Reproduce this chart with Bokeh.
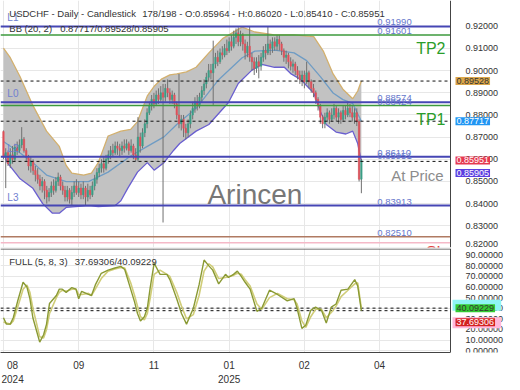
from bokeh.plotting import figure
from bokeh.layouts import column
from bokeh.models import (Range1d, FixedTicker, NumeralTickFormatter, Label,
                          ColumnDataSource, LinearAxis)
from bokeh.core.properties import value
from bokeh.embed import file_html
from bokeh.resources import INLINE

FONT = "Liberation Sans"

# ---------------- candles (daily USDCHF) ----------------
bar_open = [.8725, .8610, .8630, .8580, .8620, .8600, .8655, .8640, .8665, .8690,
            .8640, .8610, .8570, .8590, .8550, .8530, .8510, .8480, .8500, .8460,
            .8430, .8450, .8480, .8460, .8500, .8520, .8480, .8460, .8430, .8460,
            .8420, .8450, .8480, .8450, .8470, .8440, .8470, .8430, .8460, .8440,
            .8480, .8510, .8540, .8560, .8580, .8560, .8600, .8620, .8640, .8630,
            .8660, .8650, .8640, .8660, .8650, .8670, .8640, .8660, .8620, .8600,
            .8700, .8660, .8720, .8760, .8810, .8840, .8870, .8850, .8890, .8870,
            .8900, .8880, .8920, .8900, .8870, .8890, .8850, .8800, .8760, .8780,
            .8740, .8720, .8760, .8800, .8830, .8860, .8840, .8880, .8910, .8940,
            .8970, .9000, .8990, .9030, .9060, .9040, .9080, .9070, .9100, .9090,
            .9130, .9110, .9150, .9170, .9130, .9160, .9120, .9080, .9110, .9060,
            .9040, .9010, .9040, .9020, .9060, .9090, .9080, .9120, .9100, .9130,
            .9110, .9140, .9120, .9090, .9060, .9070, .9040, .9020, .9030, .9000,
            .8980, .8960, .8980, .8950, .8990, .8950, .8920, .8900, .8870, .8840,
            .8790, .8760, .8790, .8810, .8780, .8800, .8830, .8790, .8810, .8780,
            .8820, .8800, .8830, .8810, .8790, .8810, .8770, .8510]
bar_high = [.8730, .8650, .8640, .8650, .8660, .8670, .8680, .8690, .8745, .8700,
            .8650, .8620, .8610, .8600, .8570, .8560, .8530, .8520, .8510, .8480,
            .8470, .8500, .8510, .8520, .8540, .8530, .8500, .8480, .8480, .8470,
            .8480, .8500, .8510, .8500, .8490, .8500, .8480, .8490, .8480, .8500,
            .8530, .8560, .8580, .8600, .8610, .8620, .8640, .8660, .8670, .8680,
            .8680, .8670, .8680, .8690, .8690, .8680, .8690, .8670, .8650, .8790,
            .8720, .8740, .8780, .8830, .8860, .8890, .8900, .8910, .8920, .8930,
            .8940, .8940, .8960, .8920, .8910, .8900, .8860, .8985, .8800, .8800,
            .8760, .8780, .8820, .8860, .8880, .8890, .8900, .8930, .8960, .8990,
            .9030, .9030, .9135, .9080, .9090, .9100, .9110, .9120, .9140, .9150,
            .9160, .9180, .9190, .9195, .9180, .9170, .9140, .9130, .9199, .9080,
            .9060, .9060, .9070, .9080, .9110, .9120, .9199, .9140, .9150, .9150,
            .9160, .9160, .9130, .9100, .9090, .9080, .9060, .9050, .9040, .9020,
            .9000, .9000, .9000, .9040, .9000, .8960, .8940, .8910, .8880, .8850,
            .8800, .8810, .8830, .8820, .8830, .8850, .8840, .8830, .8820, .8840,
            .8840, .8860, .8850, .8840, .8830, .8830, .8780, .8602]
bar_low = [.8600, .8470, .8570, .8560, .8580, .8590, .8620, .8630, .8650, .8630,
           .8590, .8550, .8540, .8530, .8500, .8490, .8460, .8450, .8420, .8400,
           .8410, .8430, .8440, .8450, .8480, .8460, .8440, .8410, .8410, .8400,
           .8390, .8430, .8440, .8430, .8420, .8420, .8390, .8410, .8420, .8430,
           .8460, .8490, .8520, .8540, .8540, .8550, .8580, .8600, .8610, .8620,
           .8620, .8610, .8620, .8630, .8640, .8620, .8630, .8600, .8590, .8590,
           .8630, .8650, .8700, .8740, .8800, .8820, .8830, .8840, .8850, .8860,
           .8315, .8860, .8880, .8850, .8850, .8830, .8780, .8740, .8730, .8700,
           .8690, .8700, .8740, .8780, .8810, .8820, .8830, .8860, .8890, .8920,
           .8950, .8960, .8845, .9010, .9020, .9030, .9050, .9060, .9070, .9080,
           .9090, .9100, .9120, .9110, .9110, .9090, .9050, .9060, .9040, .9000,
           .8980, .8990, .8965, .9000, .9040, .9050, .9070, .9070, .9080, .9090,
           .9090, .9090, .9070, .9040, .9030, .9010, .9000, .8990, .8980, .8960,
           .8940, .8930, .8920, .8940, .8920, .8900, .8880, .8850, .8820, .8760,
           .8740, .8740, .8770, .8760, .8770, .8780, .8770, .8760, .8760, .8770,
           .8780, .8790, .8790, .8770, .8760, .8750, .8500, .8447]
bar_close = [.8610, .8630, .8580, .8620, .8600, .8655, .8640, .8665, .8690, .8640,
             .8610, .8570, .8590, .8550, .8530, .8510, .8480, .8500, .8460, .8430,
             .8450, .8480, .8460, .8500, .8520, .8480, .8460, .8430, .8460, .8420,
             .8450, .8480, .8450, .8470, .8440, .8470, .8430, .8460, .8440, .8480,
             .8510, .8540, .8560, .8580, .8560, .8600, .8620, .8640, .8630, .8660,
             .8650, .8640, .8660, .8650, .8670, .8640, .8660, .8620, .8600, .8700,
             .8660, .8720, .8760, .8810, .8840, .8870, .8850, .8890, .8870, .8900,
             .8880, .8920, .8900, .8870, .8890, .8850, .8800, .8760, .8780, .8740,
             .8720, .8760, .8800, .8830, .8860, .8840, .8880, .8910, .8940, .8970,
             .9000, .8990, .9030, .9060, .9040, .9080, .9070, .9100, .9090, .9130,
             .9110, .9150, .9170, .9130, .9160, .9120, .9080, .9110, .9060, .9040,
             .9010, .9040, .9020, .9060, .9090, .9080, .9120, .9100, .9130, .9110,
             .9140, .9120, .9090, .9060, .9070, .9040, .9020, .9030, .9000, .8980,
             .8960, .8980, .8950, .8990, .8950, .8920, .8900, .8870, .8840, .8790,
             .8760, .8790, .8810, .8780, .8800, .8830, .8790, .8810, .8780, .8820,
             .8800, .8830, .8810, .8790, .8810, .8770, .8510, .8595]
bar_idx = list(range(len(bar_close)))

# ---------------- Bollinger bands (20, 2), sampled from the chart ----------------
bb_upper_x = [0, 3.0, 7.3, 12.9, 18.9, 24.5, 27.5, 30.0, 35.2, 38.6, 41.6, 45.9, 51.5, 55.8,
              58.8, 63.1, 66.1, 69.5, 73.0, 76.0, 80.3, 84.5, 90.1, 96.1, 101.7, 104.7, 110.3,
              118.9, 127.5, 136.1, 140.3, 144.6, 148.9, 153.2, 155.4, 157.0]
bb_upper = [.9101, .9058, .8972, .8843, .8727, .8658, .8572, .8538, .8529, .8538, .8585, .8705,
            .8727, .8735, .8770, .8886, .8929, .8963, .8981, .8985, .8994, .9015, .9080, .9144,
            .9178, .9196, .9174, .9161, .9161, .9153, .9088, .8985, .8916, .8873, .8908, .89528]
bb_mid_x = [0, 7.3, 12.9, 18.9, 27.5, 37.3, 45.9, 55.8, 63.1, 70.4, 76.0, 84.5, 94.4, 104.7,
            110.3, 118.9, 127.5, 133.0, 139.1, 144.6, 148.9, 153.2, 157.0]
bb_mid = [.8680, .8628, .8585, .8529, .8499, .8499, .8542, .8615, .8658, .8701, .8757, .8830,
          .8959, .9058, .9088, .9092, .9080, .9045, .8972, .8899, .8869, .8852, .87717]
bb_lower_x = [0, 1.7, 7.3, 12.9, 17.2, 21.5, 24.5, 27.5, 37.3, 41.6, 48.9, 51.5, 54.5, 58.8,
              63.1, 66.1, 70.4, 74.7, 77.3, 84.5, 90.1, 98.7, 103.0, 109.0, 113.3, 118.9, 123.2,
              126.2, 130.5, 136.1, 139.1, 141.6, 145.9, 150.2, 153.2, 155.4, 157.0]
bb_lower = [.8628, .8585, .8512, .8469, .8400, .8357, .8357, .8383, .8391, .8387, .8391, .8413,
            .8469, .8542, .8585, .8551, .8585, .8641, .8671, .8727, .8757, .8856, .8942, .9002,
            .9028, .9015, .9015, .8985, .8959, .8899, .8813, .8757, .8723, .8714, .8727, .8671,
            .85905]
bb_now = [0.87717, 0.89528, 0.85905]   # middle / upper / lower

# ---------------- FULL stochastic (5, 8, 3) ----------------
osc_x = [0, 1.3, 3.0, 4.3, 6.4, 8.6, 10.3, 11.6, 12.9, 14.6, 15.9, 17.6, 18.9, 20.2, 23.2,
         24.5, 25.8, 27.5, 30.0, 31.8, 33.0, 34.3, 37.3, 38.6, 40.3, 42.9, 45.9, 48.9, 51.5,
         53.2, 55.8, 57.5, 58.8, 60.1, 61.8, 63.1, 64.4, 66.1, 68.7, 71.7, 73.0, 76.0, 78.1,
         80.3, 83.3, 85.8, 88.0, 90.1, 91.8, 94.4, 97.4, 98.7, 100.9, 102.6, 104.3, 106.0,
         108.2, 111.2, 113.3, 116.7, 120.2, 124.5, 127.5, 128.8, 130.9, 132.6, 134.8, 136.9,
         139.5, 141.6, 143.8, 145.9, 148.1, 151.1, 154.1, 155.4, 157.0]
osc_k = [31, 25, 25, 31, 48, 64.5, 60, 49, 31, 18, 8, 15, 25, 44.5, 52, 58, 58, 55, 59.5, 58,
         49, 56, 53, 52, 62, 73, 76, 78, 79.5, 76.5, 58, 46, 35, 28, 32, 40, 60, 82.5, 72, 72,
         67, 49, 35, 25, 40, 62, 85.5, 80, 76, 63, 72, 69, 72, 75, 70, 64.5, 58, 37, 40, 57,
         53, 47, 49, 40, 21, 24, 38, 41, 38, 26, 41, 44, 57, 58, 67, 61, 37.69306]
osc_d = [27, 26, 25, 28, 42, 58, 62, 55, 40, 25, 13, 12, 20, 35, 50, 55, 57, 56, 58, 58,
         53, 53, 54, 52, 58, 68, 75, 77, 78.5, 78, 64, 52, 42, 32, 29, 35, 50, 72, 76, 72,
         70, 55, 42, 30, 34, 52, 75, 82, 79, 68, 69, 70, 71, 73, 72, 67, 61, 44, 39, 50,
         54, 49, 48, 44, 28, 22, 32, 39, 39, 31, 36, 42, 51, 57, 63, 64, 40.09229]
osc_now = [37.69306, 40.09229]

# ---------------- levels ----------------
level_blue = [0.91990, 0.88574, 0.86110, 0.83913]
level_blue_names = ["L1", "L0", "L2", "L3"]
level_green = [0.91601, 0.88424]
level_green_names = ["TP2", "TP1"]
level_brown = 0.82510
level_sl = 0.82240
level_tags = [0.91990, 0.91601, 0.88574, 0.88424, 0.86110, 0.85951, 0.83913, 0.82510]
last_open, last_high, last_low, last_close = 0.85964, 0.86020, 0.85410, 0.85951

price_ticks = [0.82, 0.83, 0.84, 0.85, 0.86, 0.87, 0.88, 0.89, 0.90, 0.91, 0.92]
osc_ticks = [0, 10, 20, 30, 40, 50, 60, 70, 80, 90]
x_grid_pos = [0, 33, 66, 99, 132, 165]
x_label_pos = [4, 33, 66, 99, 132, 165]
x_tick_labels = ["08", "09", "11", "01", "02", "04"]
year_pos = [4, 99]
year_labels = ["2024", "2025"]

# ---------------- layout constants ----------------
W_DATA, W, H1, H2 = 450, 504, 247, 104
X0, X1 = -1.3, 196.1                      # data area (bars)
XW = X0 + (X1 - X0) * W / W_DATA          # frame also holds the price scale
PY0, PY1 = 0.82022, 0.93161
OY0, OY1 = -1.8, 96.4
BULL, BEAR = "#3a9e86", "#e0505a"
GRID = "#e7e7e7"
DARK = "#333333"
AX = "#444444"
px_per_price = H1 / (PY1 - PY0)
px_per_osc = H2 / (OY1 - OY0)

xr = Range1d(X0, XW)


def style_value_axis(ax, ticker, overrides=None):
    ax.ticker = ticker
    ax.fixed_location = X1
    ax.formatter = NumeralTickFormatter(format="0.00000")
    if overrides:
        ax.major_label_overrides = overrides
    ax.major_tick_line_color = None
    ax.minor_tick_line_color = None
    ax.axis_line_color = AX
    ax.major_label_standoff = 9
    ax.major_label_text_font = FONT
    ax.major_label_text_font_size = "9px"
    ax.major_label_text_color = DARK


def limit_grid(g):
    try:
        g.cross_bounds = (X0, X1)
    except AttributeError:
        pass


def slabel(p, x, y, text, size="9.5px", color=DARK):
    p.add_layout(Label(x=x, y=y, x_units="screen", y_units="screen", text=text,
                       text_font=FONT, text_font_size=size, text_color=color,
                       text_baseline="middle"))


def tag(p, y, text, bg, fg, size="9px", dx=5, pad=1):
    p.add_layout(Label(x=X1, y=y, x_offset=dx, text=text, text_font=FONT,
                       text_font_size=size, text_color=fg, text_baseline="middle",
                       background_fill_color=bg, background_fill_alpha=1.0, padding=pad))


def hlines(p, ys, **kw):
    p.segment(x0=[X0] * len(ys), y0=ys, x1=[X1] * len(ys), y1=ys, **kw)


# ================= main price panel =================
p1 = figure(frame_width=W, frame_height=H1, x_range=xr, y_range=Range1d(PY0, PY1),
            x_axis_location=None, y_axis_location="right", toolbar_location=None,
            output_backend="svg", min_border_left=0, min_border_top=0, min_border_bottom=1,
            min_border_right=0, background_fill_color="white", border_fill_color="white")
p1.outline_line_color = None
ptick_pos = [0.8217] + price_ticks[1:]    # lowest label nudged up as in the source chart
style_value_axis(p1.yaxis[0], FixedTicker(ticks=ptick_pos), {0.8217: "0.82000"})
p1.ygrid.ticker = FixedTicker(ticks=price_ticks)
p1.xgrid.ticker = FixedTicker(ticks=x_grid_pos)
p1.grid.grid_line_color = GRID
for g in p1.ygrid:
    limit_grid(g)

# Bollinger band area and lines
band_x = bb_upper_x + bb_lower_x[::-1]
band_y = bb_upper + bb_lower[::-1]
p1.patch(band_x, band_y, fill_color="#c2c2c2", fill_alpha=1.0, line_color=None)
p1.line(bb_upper_x, bb_upper, line_color="#d3b06e", line_width=1.3)
p1.line(bb_mid_x, bb_mid, line_color="#6f9cc4", line_width=1.3)
p1.line(bb_lower_x, bb_lower, line_color="#6a5fd0", line_width=1.3)

# candles
src = ColumnDataSource(dict(
    x=bar_idx, h=bar_high, l=bar_low,
    top=[max(o, c) for o, c in zip(bar_open, bar_close)],
    bottom=[min(o, c) for o, c in zip(bar_open, bar_close)],
    color=[BULL if c >= o else BEAR for o, c in zip(bar_open, bar_close)]))
p1.segment("x", "h", "x", "l", source=src, line_color="#707070", line_width=1)
p1.vbar("x", 0.62, "top", "bottom", source=src, fill_color="color", line_color="color",
        line_width=0.6)

# horizontal levels
hlines(p1, level_blue, line_color="#4646b4", line_width=2)
hlines(p1, level_green, line_color="#3d9a3d", line_width=1.5)
hlines(p1, [level_brown], line_color="#b07a62", line_width=1.5)
hlines(p1, [level_sl], line_color="#f5b9c8", line_width=1.5)
hlines(p1, bb_now, line_color="#111111", line_width=1, line_dash="3 3")

# level price tags and names
p1.text(x=[164] * len(level_tags), y=level_tags, text=["%.5f" % v for v in level_tags],
        text_font=value(FONT), text_font_size="9.5px", text_color="#6677cc",
        text_baseline="bottom", y_offset=-1)
p1.text(x=[1.7] * len(level_blue), y=level_blue, text=level_blue_names,
        text_font=value(FONT), text_font_size="10px", text_color="#7080d0",
        text_baseline="bottom", y_offset=-3)
p1.text(x=[193.9] * 2, y=level_green, text=level_green_names, text_font=value(FONT),
        text_font_size="16px", text_color="#2a9d2a", text_align="right",
        text_baseline="top", y_offset=5)
p1.text(x=[193.9], y=[level_sl], text=["SL"], text_font=value(FONT), text_font_size="16px",
        text_color="#e04040", text_align="right", text_baseline="top", y_offset=1)
p1.text(x=[193.1], y=[last_close], text=["At Price"], text_font=value(FONT),
        text_font_size="15px", text_color="#8c8c8c", text_align="right",
        text_baseline="top", y_offset=7)
p1.text(x=[110.3], y=[0.8443], text=["Arincen"], text_font=value(FONT),
        text_font_size="28px", text_color="#777777", text_align="center",
        text_baseline="alphabetic")

# legend lines
slabel(p1, 8.8, H1 - 12.5, "USDCHF - Daily - Candlestick")
slabel(p1, 141.8, H1 - 12.5, "178/198 - O:%.5f - H:%.5f - L:%.5f - C:%.5f"
       % (last_open, last_high, last_low, last_close))
slabel(p1, 8.8, H1 - 28, "BB (20, 2)")
slabel(p1, 59.7, H1 - 28, "%.5f/%.5f/%.5f" % tuple(bb_now))

# coloured value tags on the price scale (the last one pushed down to avoid overlap)
tag(p1, bb_now[1], "%.5f" % bb_now[1], "#dba64a", DARK)
tag(p1, bb_now[0], "%.5f" % bb_now[0], "#2196f3", "white")
tag(p1, last_close, "%.5f" % last_close, "#e53950", "white")
tag(p1, bb_now[2] - 11.5 / px_per_price, "%.5f" % bb_now[2], "#5b3fe0", "white")

# ================= oscillator panel =================
p2 = figure(frame_width=W, frame_height=H2, x_range=xr, y_range=Range1d(OY0, OY1),
            x_axis_location="below", y_axis_location="right", toolbar_location=None,
            output_backend="svg", min_border_left=0, min_border_top=0, min_border_bottom=0,
            min_border_right=0, background_fill_color="white", border_fill_color="white")
p2.outline_line_color = None
style_value_axis(p2.yaxis[0], FixedTicker(ticks=osc_ticks))
p2.ygrid.ticker = FixedTicker(ticks=osc_ticks)
p2.xgrid.ticker = FixedTicker(ticks=x_grid_pos)
p2.grid.grid_line_color = GRID
for g in p2.ygrid:
    limit_grid(g)
xa = p2.xaxis[0]
xa.ticker = FixedTicker(ticks=x_label_pos)
xa.major_label_overrides = dict(zip(x_label_pos, x_tick_labels))
xa.bounds = (X0, X1)
xa.major_tick_line_color = None
xa.minor_tick_line_color = None
xa.axis_line_color = AX
xa.major_label_text_font = FONT
xa.major_label_text_color = DARK
xa.major_label_standoff = 2
xa.major_label_text_font_size = "10px"

year_axis = LinearAxis(ticker=FixedTicker(ticks=year_pos),
                       major_label_overrides=dict(zip(year_pos, year_labels)),
                       axis_line_color=None, major_tick_line_color=None,
                       minor_tick_line_color=None, major_label_standoff=-3,
                       major_label_text_font=FONT, major_label_text_font_size="10px",
                       major_label_text_color=DARK)
p2.add_layout(year_axis, "below")

hlines(p2, [OY1 - 0.5 / px_per_osc], line_color=AX, line_width=1)
hlines(p2, osc_now, line_color="#111111", line_width=1, line_dash="3 3")
p2.line(osc_x, osc_d, line_color="#d0cd78", line_width=1.6)
p2.line(osc_x, osc_k, line_color="#8a9a34", line_width=1.4)

slabel(p2, 8.8, H2 - 12.5, "FULL (5, 8, 3)")
slabel(p2, 74.3, H2 - 12.5, "%.5f/%.5f" % tuple(osc_now))

# soft highlight boxes behind the oscillator value tags (text drawn in the box colour)
tag(p2, osc_now[1] + 3 / px_per_osc, "0000000", "#8ff5f5", "#8ff5f5", size="12px", dx=2, pad=1)
tag(p2, osc_now[0] - 12 / px_per_osc, "0000000", "#ffb8dc", "#ffb8dc", size="12px", dx=2, pad=1)
tag(p2, osc_now[1], "%.5f" % osc_now[1], "#33cc33", DARK)
tag(p2, osc_now[0] - 11.5 / px_per_osc, "%.5f" % osc_now[0], "#d42222", "white")

layout = column(p1, p2, spacing=0)
open("out.html", "w").write(file_html(layout, INLINE))
